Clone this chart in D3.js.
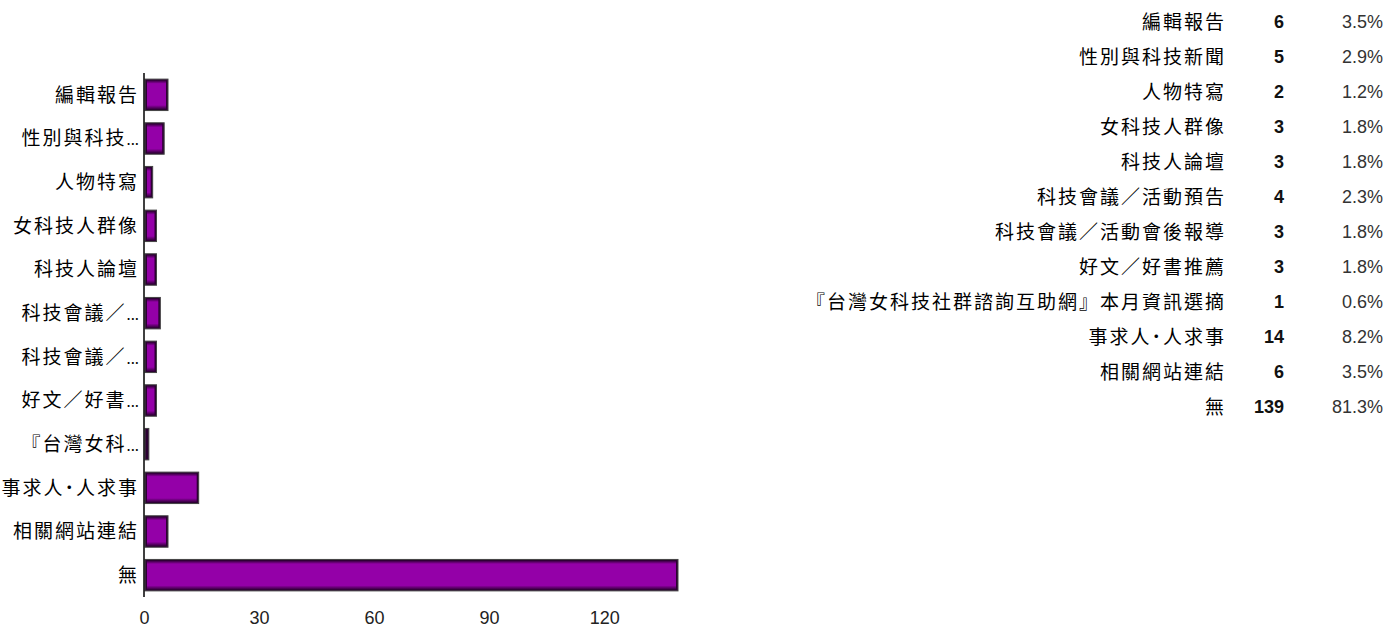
<!DOCTYPE html>
<html>
<head>
<meta charset="utf-8">
<script src="https://cdn.jsdelivr.net/npm/d3@7"></script>
<style>
  body { margin: 0; background: #fff; }
  svg text { font-family: "Noto Sans CJK TC", "Liberation Sans", sans-serif; }
  .num { font-family: "Liberation Sans", Arial, sans-serif; }
</style>
</head>
<body>
<div class="plot1"></div>
<script>
// answer categories, full names (table) and short names (axis)
var categories = ["編輯報告", "性別與科技新聞", "人物特寫", "女科技人群像", "科技人論壇",
  "科技會議／活動預告", "科技會議／活動會後報導", "好文／好書推薦",
  "『台灣女科技社群諮詢互助網』本月資訊選摘", "事求人˙人求事", "相關網站連結", "無"];
var shortLabels = ["編輯報告", "性別與科技...", "人物特寫", "女科技人群像", "科技人論壇",
  "科技會議／...", "科技會議／...", "好文／好書...", "『台灣女科...", "事求人˙人求事", "相關網站連結", "無"];
var counts = [6, 5, 2, 3, 3, 4, 3, 3, 1, 14, 6, 139];
var percents = ["3.5%", "2.9%", "1.2%", "1.8%", "1.8%", "2.3%", "1.8%", "1.8%", "0.6%", "8.2%", "3.5%", "81.3%"];
var xTicks = [0, 30, 60, 90, 120];

function plotBars() {
  var width = 1399;
  var height = 632;

  var svg = d3.select(".plot1").append("svg")
    .attr("width", width)
    .attr("height", height);

  var rows = categories.map(function(c, i) {
    return {name: c, label: shortLabels[i], count: counts[i], pct: percents[i]};
  });

  var x = d3.scaleLinear()
    .domain([0, d3.max(counts)])
    .range([144, 677]);

  var y = d3.scaleBand()
    .domain(categories)
    .range([73, 597])
    .paddingInner(0.28)
    .paddingOuter(0.14);

  // soft dark edges on the bars
  var defs = svg.append("defs");
  var gv = defs.append("linearGradient")
    .attr("id", "barv").attr("x1", 0).attr("x2", 0).attr("y1", 0).attr("y2", 1);
  gv.append("stop").attr("offset", "0%").attr("stop-color", "#2c0033");
  gv.append("stop").attr("offset", "12%").attr("stop-color", "#9400a8");
  gv.append("stop").attr("offset", "85%").attr("stop-color", "#9400a8");
  gv.append("stop").attr("offset", "100%").attr("stop-color", "#2c0033");

  var bars = svg.append("g")
    .selectAll("g")
    .data(rows)
    .join("g");

  bars.append("rect")
    .attr("x", x(0) + 1)
    .attr("y", d => y(d.name))
    .attr("width", d => x(d.count) - x(0))
    .attr("height", y.bandwidth())
    .attr("fill", "#2c0033")
    .attr("stroke", "#444")
    .attr("stroke-width", 1);

  bars.append("rect")
    .attr("x", x(0) + 3)
    .attr("y", d => y(d.name) + 1)
    .attr("width", d => Math.max(0, x(d.count) - x(0) - 4))
    .attr("height", y.bandwidth() - 2)
    .attr("fill", "url(#barv)");

  // category labels, ellipsis kept tight
  var labels = svg.append("g")
    .selectAll("text")
    .data(rows)
    .join("text")
    .attr("x", 139)
    .attr("y", d => y(d.name) + y.bandwidth() / 2)
    .attr("dy", "0.36em")
    .attr("text-anchor", "end")
    .style("font-size", "19px")
    .style("fill", "#000");

  labels.append("tspan")
    .style("letter-spacing", "2px")
    .text(d => d.label.replace("...", ""));

  labels.filter(d => d.label.endsWith("..."))
    .append("tspan")
    .style("font-size", "15px")
    .style("letter-spacing", "0px")
    .text("...");

  // y axis line
  svg.append("line")
    .attr("x1", 144).attr("x2", 144)
    .attr("y1", 73).attr("y2", 597)
    .attr("stroke", "#000")
    .attr("stroke-width", 1.5);

  // x axis tick labels
  var xAxis = d3.axisBottom(x)
    .tickValues(xTicks)
    .tickSize(0)
    .tickPadding(0);

  var gx = svg.append("g")
    .attr("transform", "translate(0,611)")
    .call(xAxis);
  gx.select(".domain").remove();
  gx.selectAll("text")
    .attr("class", "num")
    .style("font-size", "18px")
    .style("fill", "#222");

  // table on the right
  var ty = d3.scaleLinear()
    .domain([0, categories.length - 1])
    .range([22, 407]);

  var table = svg.append("g")
    .selectAll("g")
    .data(rows)
    .join("g")
    .attr("transform", (d, i) => "translate(0," + ty(i) + ")");

  table.append("text")
    .attr("x", 1226)
    .attr("dy", "0.36em")
    .attr("text-anchor", "end")
    .style("font-size", "19px")
    .style("letter-spacing", "2px")
    .style("fill", "#000")
    .text(d => d.name);

  table.append("text")
    .attr("class", "num")
    .attr("x", 1284)
    .attr("dy", "0.36em")
    .attr("text-anchor", "end")
    .style("font-size", "18px")
    .style("font-weight", "bold")
    .style("fill", "#111")
    .text(d => d.count);

  table.append("text")
    .attr("class", "num")
    .attr("x", 1383)
    .attr("dy", "0.36em")
    .attr("text-anchor", "end")
    .style("font-size", "18px")
    .style("fill", "#333")
    .text(d => d.pct);
}

plotBars();
</script>
</body>
</html>
